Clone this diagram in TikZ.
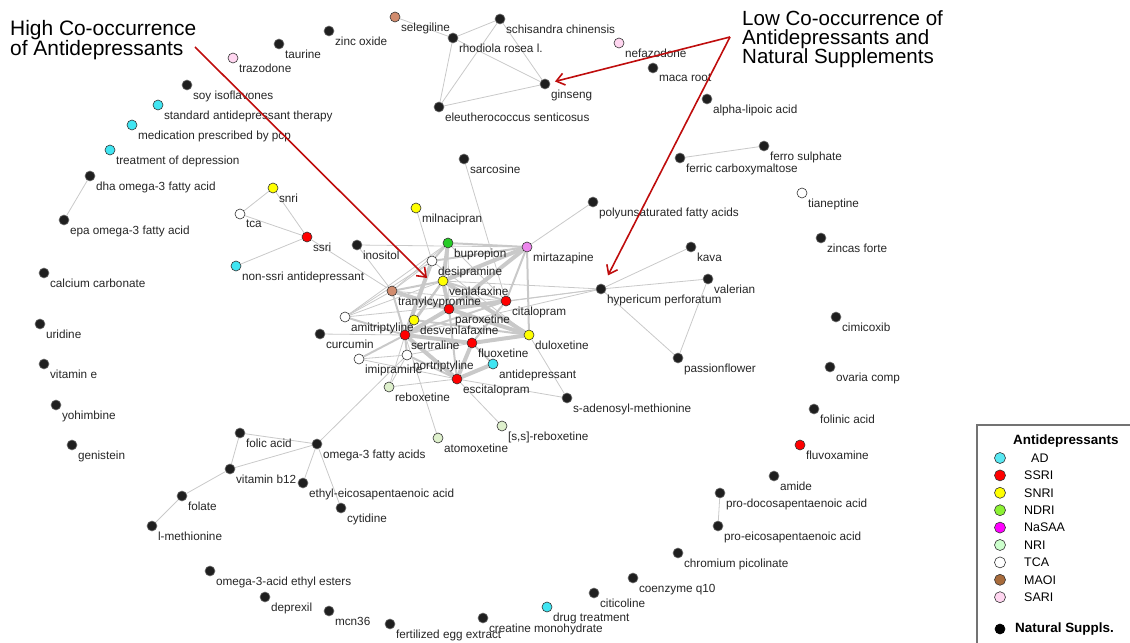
\documentclass[tikz,border=0pt]{standalone}
\usepackage{fontspec}
\setmainfont{Liberation Sans}
\usetikzlibrary{arrows.meta,backgrounds}
\definecolor{adcyan}{rgb}{0.25,0.90,0.95}
\definecolor{ssrirot}{rgb}{1,0,0}
\definecolor{snrigelb}{rgb}{1,1,0}
\definecolor{ndrigruen}{rgb}{0.15,0.80,0.15}
\definecolor{nasaaviolett}{rgb}{0.93,0.53,0.93}
\definecolor{nriblass}{rgb}{0.87,0.94,0.80}
\definecolor{maoibraun}{rgb}{0.82,0.55,0.43}
\definecolor{sarirosa}{rgb}{1,0.84,0.94}
\definecolor{legad}{rgb}{0.35,0.91,0.95}
\definecolor{legndri}{rgb}{0.55,0.95,0.20}
\definecolor{legnasaa}{rgb}{1,0,1}
\definecolor{legnri}{rgb}{0.80,1,0.80}
\definecolor{legmaoi}{rgb}{0.66,0.42,0.23}
\definecolor{kantengrau}{rgb}{0.79,0.79,0.79}
\definecolor{pfeilrot}{rgb}{0.75,0.05,0.05}

\begin{document}
\begin{tikzpicture}[yscale=-1,x=1bp,y=1bp,
  ns/.style={circle,fill=black!88,draw=black!55,line width=0.6bp,inner sep=0,minimum size=10bp},
  ad/.style={circle,fill=#1,draw=black!80,line width=0.6bp,inner sep=0,minimum size=10bp},
  lbl/.style={font=\fontsize{11.8}{12}\selectfont,text=black!85,inner sep=0.3bp},
  every label/.style={label distance=2.5bp},
  lnk/.style={draw=kantengrau,line width=0.8bp},
  lnkm/.style={lnk,line width=2bp},
  lnkt/.style={lnk,line width=4bp},
  hinweis/.style={align=left,inner sep=0,anchor=north west,font=\fontsize{21}{20}\selectfont},
  legtxt/.style={anchor=west,inner sep=0,font=\fontsize{12.5}{13}\selectfont}]

  \useasboundingbox (0,0) rectangle (1130,643);

  % --- Hub: Antidepressiva ---
  \node[ad=ndrigruen,label={[lbl]below right:bupropion}] (bupropion) at (448,243) {};
  \node[ad=nasaaviolett,label={[lbl]below right:mirtazapine}] (mirtazapine) at (527,247) {};
  \node[ad=white,label={[lbl]below right:desipramine}] (desipramine) at (432,261) {};
  \node[ad=snrigelb,label={[lbl]below right:venlafaxine}] (venlafaxine) at (443,281) {};
  \node[ad=maoibraun,label={[lbl]below right:tranylcypromine}] (tranyl) at (392,291) {};
  \node[ad=ssrirot,label={[lbl]below right:citalopram}] (citalopram) at (506,301) {};
  \node[ad=ssrirot,label={[lbl]below right:paroxetine}] (paroxetine) at (449,309) {};
  \node[ad=white,label={[lbl]below right:amitriptyline}] (amitriptyline) at (345,317) {};
  \node[ad=snrigelb,label={[lbl]below right:desvenlafaxine}] (desvenlafaxine) at (414,320) {};
  \node[ad=ssrirot,label={[lbl]below right:sertraline}] (sertraline) at (405,335) {};
  \node[ad=snrigelb,label={[lbl]below right:duloxetine}] (duloxetine) at (529,335) {};
  \node[ad=ssrirot,label={[lbl]below right:fluoxetine}] (fluoxetine) at (472,343) {};
  \node[ad=white,label={[lbl]below right:imipramine}] (imipramine) at (359,359) {};
  \node[ad=white,label={[lbl]below right:nortriptyline}] (nortriptyline) at (407,355) {};
  \node[ad=adcyan,label={[lbl]below right:antidepressant}] (antidep) at (493,364) {};
  \node[ad=ssrirot,label={[lbl]below right:escitalopram}] (escitalopram) at (457,379) {};
  \node[ad=nriblass,label={[lbl]below right:reboxetine}] (reboxetine) at (389,387) {};
  \node[ad=nriblass,label={[lbl]below right:atomoxetine}] (atomoxetine) at (438,438) {};
  \node[ad=nriblass,label={[lbl]below right:{[s,s]-reboxetine}}] (ssreboxetine) at (502,426) {};
  \node[ad=snrigelb,label={[lbl]below right:milnacipran}] (milnacipran) at (416,208) {};
  \node[ad=snrigelb,label={[lbl]below right:snri}] (snri) at (273,188) {};
  \node[ad=white,label={[lbl]below right:tca}] (tca) at (240,214) {};
  \node[ad=ssrirot,label={[lbl]below right:ssri}] (ssri) at (307,237) {};
  \node[ad=adcyan,label={[lbl]below right:non-ssri antidepressant}] (nonssri) at (236,266) {};

  % --- Antidepressiva am Rand ---
  \node[ad=maoibraun,label={[lbl]below right:selegiline}] (selegiline) at (395,17) {};
  \node[ad=sarirosa,label={[lbl]below right:trazodone}] (trazodone) at (233,58) {};
  \node[ad=sarirosa,label={[lbl]below right:nefazodone}] (nefazodone) at (619,43) {};
  \node[ad=adcyan,label={[lbl]below right:standard antidepressant therapy}] (standardat) at (158,105) {};
  \node[ad=adcyan,label={[lbl]below right:medication prescribed by pcp}] (medpcp) at (132,125) {};
  \node[ad=adcyan,label={[lbl]below right:treatment of depression}] (treatdep) at (110,150) {};
  \node[ad=white,label={[lbl]below right:tianeptine}] (tianeptine) at (802,193) {};
  \node[ad=ssrirot,label={[lbl]below right:fluvoxamine}] (fluvoxamine) at (800,445) {};
  \node[ad=adcyan,label={[lbl]below right:drug treatment}] (drugtreat) at (547,607) {};

  % --- Natuerliche Supplemente ---
  \node[ns,label={[lbl]below right:schisandra chinensis}] (schisandra) at (500,19) {};
  \node[ns,label={[lbl]below right:rhodiola rosea l.}] (rhodiola) at (453,38) {};
  \node[ns,label={[lbl]below right:zinc oxide}] (zincoxide) at (329,31) {};
  \node[ns,label={[lbl]below right:taurine}] (taurine) at (279,44) {};
  \node[ns,label={[lbl]below right:maca root}] (macaroot) at (653,68) {};
  \node[ns,label={[lbl]below right:ginseng}] (ginseng) at (545,84) {};
  \node[ns,label={[lbl]below right:eleutherococcus senticosus}] (eleuthero) at (439,107) {};
  \node[ns,label={[lbl]below right:alpha-lipoic acid}] (alphalipoic) at (707,99) {};
  \node[ns,label={[lbl]below right:soy isoflavones}] (soy) at (187,85) {};
  \node[ns,label={[lbl]below right:dha omega-3 fatty acid}] (dha) at (90,176) {};
  \node[ns,label={[lbl]below right:epa omega-3 fatty acid}] (epa) at (64,220) {};
  \node[ns,label={[lbl]below right:sarcosine}] (sarcosine) at (464,159) {};
  \node[ns,label={[lbl]below right:ferric carboxymaltose}] (ferric) at (680,158) {};
  \node[ns,label={[lbl]below right:ferro sulphate}] (ferro) at (764,146) {};
  \node[ns,label={[lbl]below right:polyunsaturated fatty acids}] (pufa) at (593,202) {};
  \node[ns,label={[lbl]below right:zincas forte}] (zincas) at (821,238) {};
  \node[ns,label={[lbl]below right:inositol}] (inositol) at (357,245) {};
  \node[ns,label={[lbl]below right:kava}] (kava) at (691,247) {};
  \node[ns,label={[lbl]below right:valerian}] (valerian) at (708,279) {};
  \node[ns,label={[lbl]below right:hypericum perforatum}] (hypericum) at (601,289) {};
  \node[ns,label={[lbl]below right:curcumin}] (curcumin) at (320,334) {};
  \node[ns,label={[lbl]below right:passionflower}] (passionflower) at (678,358) {};
  \node[ns,label={[lbl]below right:s-adenosyl-methionine}] (sadenosyl) at (567,398) {};
  \node[ns,label={[lbl]below right:cimicoxib}] (cimicoxib) at (836,317) {};
  \node[ns,label={[lbl]below right:ovaria comp}] (ovaria) at (830,367) {};
  \node[ns,label={[lbl]below right:folinic acid}] (folinic) at (814,409) {};
  \node[ns,label={[lbl]below right:amide}] (amide) at (774,476) {};
  \node[ns,label={[lbl]below right:pro-docosapentaenoic acid}] (prodoco) at (720,493) {};
  \node[ns,label={[lbl]below right:pro-eicosapentaenoic acid}] (proeico) at (718,526) {};
  \node[ns,label={[lbl]below right:chromium picolinate}] (chromium) at (678,553) {};
  \node[ns,label={[lbl]below right:coenzyme q10}] (coq) at (633,578) {};
  \node[ns,label={[lbl]below right:citicoline}] (citicoline) at (594,593) {};
  \node[ns,label={[lbl]below right:creatine monohydrate}] (creatine) at (483,618) {};
  \node[ns,label={[lbl]below right:fertilized egg extract}] (fertegg) at (390,624) {};
  \node[ns,label={[lbl]below right:mcn36}] (mcn) at (329,611) {};
  \node[ns,label={[lbl]below right:deprexil}] (deprexil) at (265,597) {};
  \node[ns,label={[lbl]below right:omega-3-acid ethyl esters}] (omegaester) at (210,571) {};
  \node[ns,label={[lbl]below right:l-methionine}] (lmethionine) at (152,526) {};
  \node[ns,label={[lbl]below right:folate}] (folate) at (182,496) {};
  \node[ns,label={[lbl]below right:vitamin b12}] (vitb) at (230,469) {};
  \node[ns,label={[lbl]below right:folic acid}] (folicacid) at (240,433) {};
  \node[ns,label={[lbl]below right:omega-3 fatty acids}] (omegafa) at (317,444) {};
  \node[ns,label={[lbl]below right:ethyl-eicosapentaenoic acid}] (ethylepa) at (303,483) {};
  \node[ns,label={[lbl]below right:cytidine}] (cytidine) at (341,508) {};
  \node[ns,label={[lbl]below right:calcium carbonate}] (calcium) at (44,273) {};
  \node[ns,label={[lbl]below right:uridine}] (uridine) at (40,324) {};
  \node[ns,label={[lbl]below right:vitamin e}] (vitamine) at (44,364) {};
  \node[ns,label={[lbl]below right:yohimbine}] (yohimbine) at (56,405) {};
  \node[ns,label={[lbl]below right:genistein}] (genistein) at (72,445) {};

  % ======================================================================
  % Kanten (hinter Knoten und Beschriftung):
  % dick = haeufige Co-occurrence, duenn = seltene
  % ======================================================================
  \begin{scope}[on background layer]
  \foreach \a/\b in {venlafaxine/mirtazapine,paroxetine/mirtazapine,venlafaxine/paroxetine,
      paroxetine/sertraline,sertraline/fluoxetine,fluoxetine/escitalopram,escitalopram/antidep,
      duloxetine/paroxetine,duloxetine/fluoxetine,citalopram/paroxetine,bupropion/venlafaxine,
      desipramine/sertraline,tranyl/paroxetine,sertraline/escitalopram,duloxetine/venlafaxine}
    \draw[lnkt] (\a) -- (\b);
  \foreach \a/\b in {bupropion/mirtazapine,bupropion/desipramine,venlafaxine/citalopram,
      desipramine/mirtazapine,tranyl/venlafaxine,tranyl/sertraline,amitriptyline/sertraline,
      nortriptyline/sertraline,nortriptyline/escitalopram,imipramine/sertraline,
      citalopram/sertraline,citalopram/fluoxetine,desvenlafaxine/venlafaxine,
      desvenlafaxine/duloxetine,antidep/fluoxetine,mirtazapine/citalopram,
      mirtazapine/duloxetine,escitalopram/paroxetine,sertraline/venlafaxine,desvenlafaxine/sertraline}
    \draw[lnkm] (\a) -- (\b);
  \foreach \a/\b in {amitriptyline/tranyl,amitriptyline/desipramine,amitriptyline/bupropion,
      amitriptyline/citalopram,amitriptyline/venlafaxine,imipramine/nortriptyline,
      imipramine/escitalopram,reboxetine/escitalopram,reboxetine/sertraline,reboxetine/nortriptyline,
      tranyl/desipramine,tranyl/bupropion,tranyl/citalopram,nortriptyline/fluoxetine,
      desipramine/duloxetine,bupropion/citalopram,bupropion/paroxetine}
    \draw[lnk] (\a) -- (\b);

  % --- Kanten nach aussen ---
  \foreach \a/\b in {dha/epa,snri/tca,snri/ssri,tca/ssri,ssri/nonssri,ssri/tranyl,
      inositol/tranyl,inositol/mirtazapine,selegiline/rhodiola,rhodiola/schisandra,
      rhodiola/ginseng,rhodiola/eleuthero,schisandra/ginseng,schisandra/eleuthero,
      eleuthero/ginseng,sarcosine/citalopram,milnacipran/desipramine,pufa/mirtazapine,
      hypericum/kava,hypericum/valerian,hypericum/passionflower,valerian/passionflower,
      hypericum/venlafaxine,hypericum/citalopram,hypericum/paroxetine,hypericum/sertraline,
      ferric/ferro,prodoco/proeico,omegafa/folicacid,omegafa/vitb,omegafa/ethylepa,
      omegafa/cytidine,folicacid/vitb,vitb/folate,folate/lmethionine,omegafa/nortriptyline,
      curcumin/sertraline,atomoxetine/sertraline,ssreboxetine/escitalopram,
      sadenosyl/escitalopram,sadenosyl/duloxetine}
    \draw[lnk] (\a) -- (\b);
  \end{scope}

  % ======================================================================
  % Hinweise mit Pfeilen
  % ======================================================================
  \node[hinweis] (hightxt) at (10,20) {High Co-occurrence\\of Antidepressants};
  \node[hinweis,font=\fontsize{20.6}{19.5}\selectfont] (lowtxt) at (742,10) {Low Co-occurrence of\\Antidepressants and\\Natural Supplements};

  \coordinate (highstart) at (195,47);
  \coordinate (hubtip) at (427,278);
  \coordinate (lowstart) at (730,37);

  \draw[line width=1.6bp,pfeilrot,-{Straight Barb[length=8bp,width=12bp]}] (highstart) -- (hubtip);
  \draw[line width=1.6bp,pfeilrot,-{Straight Barb[length=8bp,width=12bp]},shorten >=5bp] (lowstart) -- (ginseng);
  \draw[line width=1.6bp,pfeilrot,-{Straight Barb[length=8bp,width=12bp]},shorten >=10bp] (lowstart) -- (hypericum);

  % ======================================================================
  % Legende
  % ======================================================================
  \draw[line width=1.2bp,black!55] (977,650) -- (977,425) -- (1140,425);
  \node[legtxt,font=\fontsize{13.5}{14}\bfseries] (legtitel) at (1013,441) {Antidepressants};
  \foreach \c/\t/\dx [count=\i] in {legad/AD/7,ssrirot/SSRI/0,snrigelb/SNRI/0,legndri/NDRI/0,
      legnasaa/NaSAA/0,legnri/NRI/0,white/TCA/0,legmaoi/MAOI/0,sarirosa/SARI/0}
  {
    \node[ad=\c,minimum size=11bp] (leg\i) at (1000,440.6+17.4*\i) {};
    \node[legtxt] (legt\i) at (1024+\dx,440.6+17.4*\i) {\t};
  }
  \node[ns,fill=black,draw=black,minimum size=10bp] (legns) at (1000,629) {};
  \node[legtxt,font=\fontsize{13.5}{14}\bfseries] (legnstxt) at (1015,629) {Natural Suppls.};

\end{tikzpicture}
\end{document}
